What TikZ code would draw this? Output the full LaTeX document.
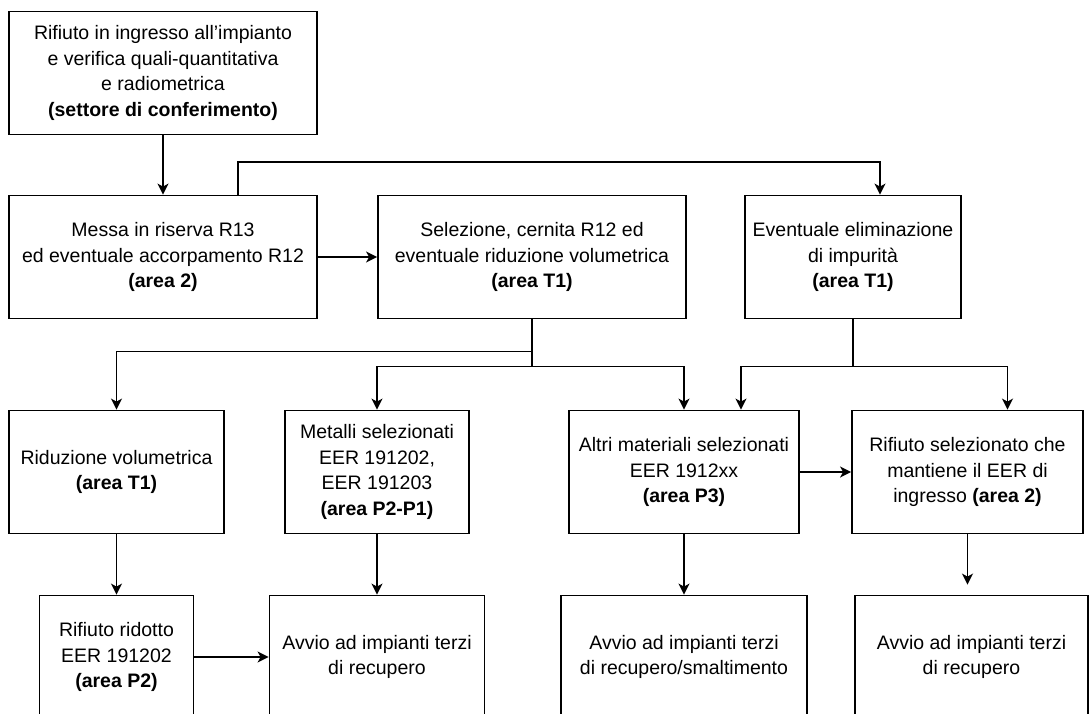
\documentclass[tikz,border=0pt]{standalone}
\usepackage{fontspec}
\setmainfont{Liberation Sans}
\usetikzlibrary{arrows.meta, positioning, calc}

\begin{document}
\begin{tikzpicture}[
    x=1pt, y=-1pt,
    box/.style={rectangle, draw, line width=1.8pt, minimum width=#1, minimum height=123pt, align=center, inner sep=2pt, font=\fontsize{19.5}{25.5}\selectfont},
    box/.default=308pt,
    arrow/.style={-{Stealth[length=11pt, width=11pt, inset=3pt]}, line width=1.8pt},
    line/.style={line width=1.8pt}
]
\useasboundingbox (0,0) rectangle (1090,713);
\clip (0,0) rectangle (1090,713);

% top rows
\node[box] (ingresso) at (163,73) {Rifiuto in ingresso all’impianto\\e verifica quali-quantitativa\\e radiometrica\\\textbf{(settore di conferimento)}};
\node[box] (riserva) at (163,257) {Messa in riserva R13\\ed eventuale accorpamento R12\\\textbf{(area 2)}};
\node[box] (selezione) at (532,257) {Selezione, cernita R12 ed\\eventuale riduzione volumetrica\\\textbf{(area T1)}};
\node[box=216pt] (impurita) at (853,257) {Eventuale eliminazione\\di impurità\\\textbf{(area T1)}};

% selected materials
\node[box=215pt] (riduzione) at (116.5,472) {Riduzione volumetrica\\\textbf{(area T1)}};
\node[box=184pt] (metalli) at (377,472) {Metalli selezionati\\EER 191202,\\EER 191203\\\textbf{(area P2-P1)}};
\node[box=230pt] (altri) at (684,472) {Altri materiali selezionati\\EER 1912xx\\\textbf{(area P3)}};
\node[box=231pt] (mantiene) at (967.5,472) {Rifiuto selezionato che\\mantiene il EER di\\ingresso \textbf{(area 2)}};

% destinations
\node[box=154pt] (ridotto) at (116.5,657) {Rifiuto ridotto\\EER 191202\\\textbf{(area P2)}};
\node[box=215pt] (avvio1) at (377,657) {Avvio ad impianti terzi\\di recupero};
\node[box=246pt] (avvio2) at (684,657) {Avvio ad impianti terzi\\di recupero/smaltimento};
\node[box=233pt] (avvio3) at (971.5,657) {Avvio ad impianti terzi\\di recupero};

\coordinate (sel-a) at ($(selezione.south)+(0,32)$);
\coordinate (sel-b) at ($(selezione.south)+(0,47)$);
\coordinate (imp-a) at ($(impurita.south)+(0,47)$);

\draw[arrow] (ingresso) -- (riserva);
\draw[arrow] (riserva) -- (selezione);
\draw[arrow] ([xshift=75pt]riserva.north) -- ++(0,-33) -| ([xshift=27pt]impurita.north);
\draw[line] (selezione.south) -- (sel-b);
\draw[arrow] (sel-a) -| (riduzione.north);
\draw[arrow] (sel-b) -| (metalli.north);
\draw[arrow] (sel-b) -| (altri.north);
\draw[line] (impurita.south) -- (imp-a);
\draw[arrow] (imp-a) -| ([xshift=57pt]altri.north);
\draw[arrow] (imp-a) -| ([xshift=40pt]mantiene.north);
\draw[arrow] (altri) -- (mantiene);
\draw[arrow] (riduzione) -- (ridotto);
\draw[arrow] (metalli) -- (avvio1);
\draw[arrow] (altri) -- (avvio2);
\draw[arrow, shorten >=10pt] (mantiene.south) -- (mantiene.south |- avvio3.north);
\draw[arrow] (ridotto) -- (avvio1);
\end{tikzpicture}
\end{document}
